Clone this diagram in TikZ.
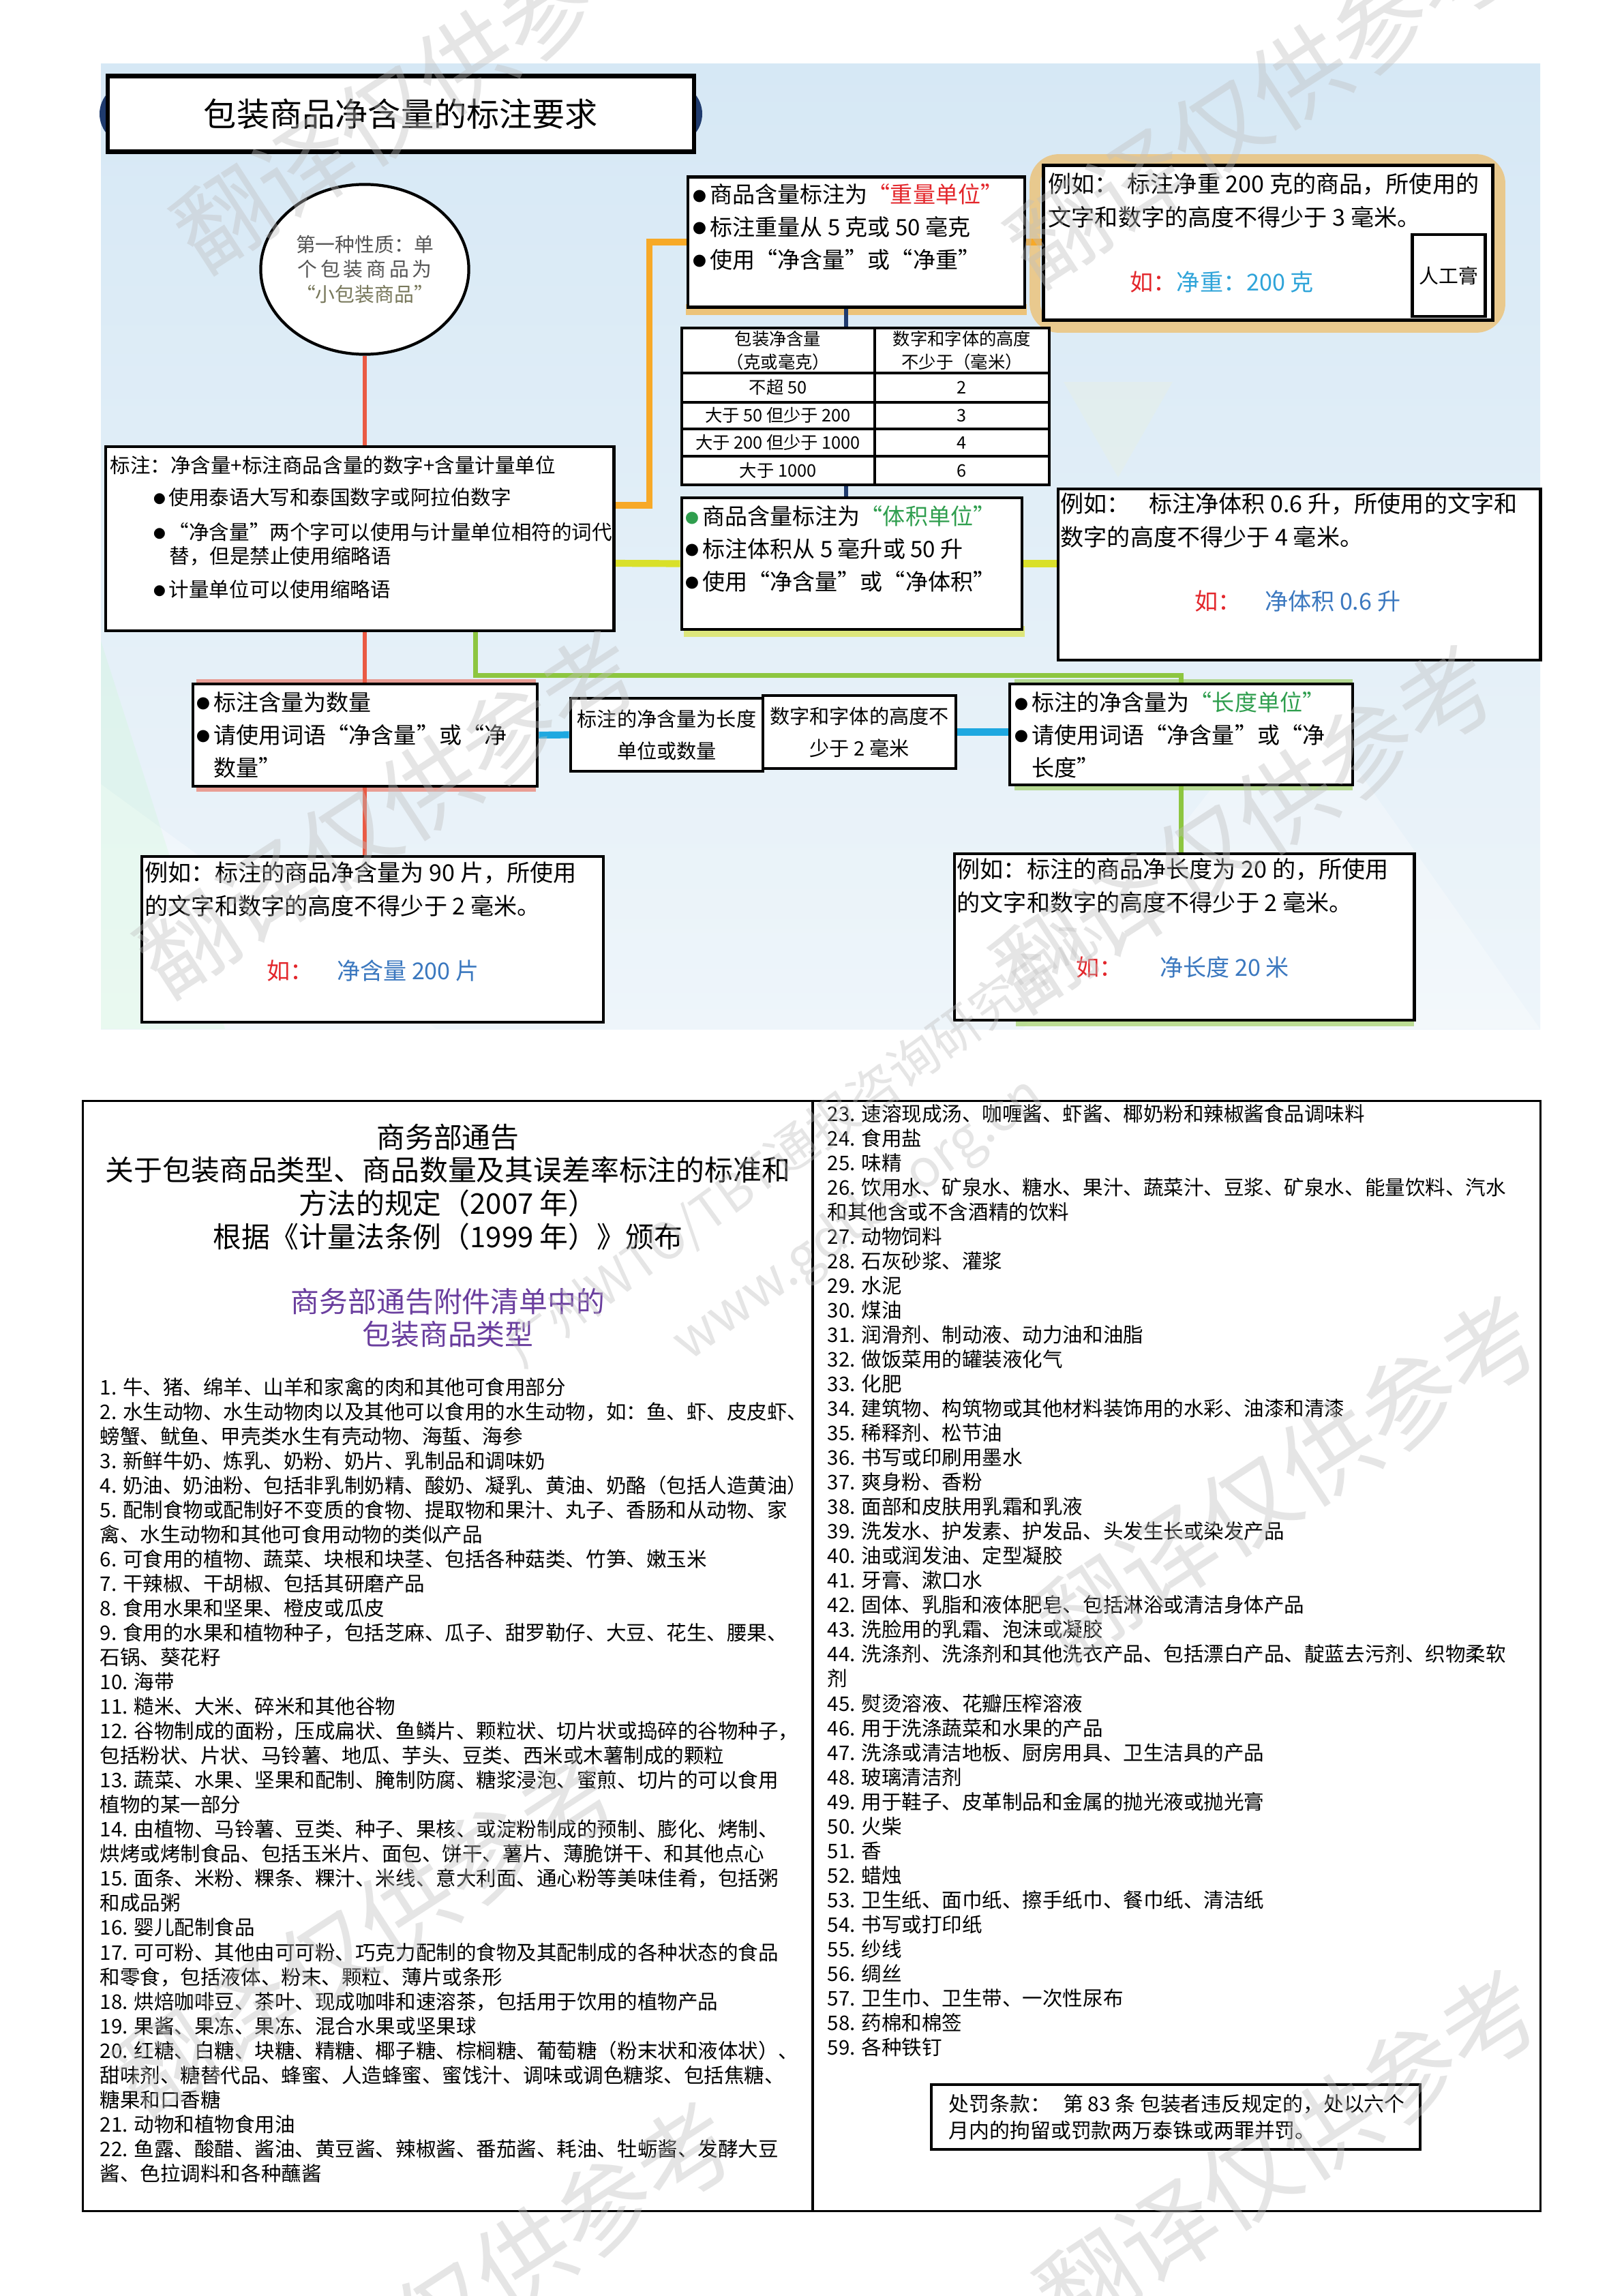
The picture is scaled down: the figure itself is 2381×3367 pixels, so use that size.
\documentclass[tikz,border=0pt]{standalone}
\usepackage{fontspec}
\usepackage{graphicx}
\setmainfont{Noto Sans CJK SC}
\usetikzlibrary{shapes.geometric}

\definecolor{panelblue}{HTML}{D6E8F5}
\definecolor{panellight}{HTML}{EEF5FA}
\definecolor{lineorange}{HTML}{F7A928}
\definecolor{lineyellow}{HTML}{D9E02A}
\definecolor{linegreen}{HTML}{8DC640}
\definecolor{linered}{HTML}{EA5A44}
\definecolor{linecyan}{HTML}{1EA8E0}
\definecolor{linenavy}{HTML}{1F3B6E}
\definecolor{txtred}{HTML}{E3262B}
\definecolor{txtcyan}{HTML}{2FA4D9}
\definecolor{txtblue}{HTML}{3B78BF}
\definecolor{txtgreen}{HTML}{2F9E4E}
\definecolor{txtpurple}{HTML}{6A3E9E}
\definecolor{ellgray}{HTML}{555555}
\definecolor{ellolive}{HTML}{77775A}

\newcommand{\fsz}[2]{\fontsize{#1pt}{#2pt}\selectfont}
\newcommand{\bdot}[1][black]{\textcolor{#1}{\raisebox{0.08em}{\scalebox{0.6}{●}}}\hspace{0.15em}}

\pgfdeclarelayer{back}
\pgfdeclarelayer{mid}
\pgfsetlayers{back,mid,main}

\tikzset{
  framebox/.style={draw=black, line width=1.3pt, fill=white, inner sep=0pt},
  bultext/.style={anchor=north west, align=left, inner sep=0pt, font=\fsz{9.4}{13.6}},
  extext/.style={anchor=north west, align=left, inner sep=0pt, font=\fsz{9.7}{13.8}},
  celltext/.style={inner sep=0pt, align=center, font=\fsz{7.2}{9.6}},
  listtext/.style={anchor=north west, align=left, inner sep=0pt, font=\fsz{8.4}{10.24}},
  wmark/.style={text=black!25, opacity=0.4, inner sep=0pt},
  tabln/.style={draw=black, line width=1pt},
  redln/.style={draw=linered, line width=1.9pt},
  orgln/.style={draw=lineorange, line width=2.6pt},
  yelln/.style={draw=lineyellow, line width=2.9pt},
  grnln/.style={draw=linegreen, line width=2pt},
  cyanln/.style={draw=linecyan, line width=2.9pt},
  navln/.style={draw=linenavy, line width=1.8pt}
}

\begin{document}
\begin{tikzpicture}[x=0.01cm, y=-0.01cm]
\useasboundingbox (0,0) rectangle (2381,3367);

\begin{pgfonlayer}{back}
\fill[white] (0,0) rectangle (2381,3367);
\shade[top color=panelblue, bottom color=panellight] (148,94) rectangle (2259,1509);
\fill[white, opacity=0.35] (148,1150) -- (640,1509) -- (148,1509) -- cycle;
\fill[white, opacity=0.3] (1500,1509) -- (1900,1000) -- (2259,1509) -- cycle;
\fill[yellow!30, opacity=0.12] (1560,560) -- (1720,560) -- (1640,700) -- cycle;
\fill[green!30, opacity=0.15] (148,940) -- (330,1509) -- (148,1509) -- cycle;
\end{pgfonlayer}

% top part
\node[framebox, line width=1.8pt, minimum width=8.59cm, minimum height=1.11cm, font=\fsz{13.7}{16}] (title) at (588,167) {包装商品净含量的标注要求};

\node[ellipse, draw=black, line width=1.2pt, fill=white, minimum width=3.05cm, minimum height=2.49cm, inner sep=0pt, align=center, text=ellgray, font=\fsz{8.2}{10.4}] (circ) at (535,395) {第一种性质：单\\个\,包\,装\,商\,品\,为\\\textcolor{ellolive}{“小包装商品”}};

\node[framebox, minimum width=4.94cm, minimum height=1.91cm] (wbox) at (1256,355) {};
\node[bultext] (wtxt) at (1016,269) {\bdot 商品含量标注为\textcolor{txtred}{“重量单位”}\\\bdot 标注重量从 5 克或 50 毫克\\\bdot 使用“净含量”或“净重”};

\node[framebox, minimum width=6.59cm, minimum height=2.27cm] (ex1) at (1860,356) {};
\node[extext] (ex1txt) at (1537,253) {例如：\hspace{0.4em}标注净重 200 克的商品，所使用的\\文字和数字的高度不得少于 3 毫米。};
\node[extext] (ex1eg) at (1657,397) {\textcolor{txtred}{如：}\textcolor{txtcyan}{净重：200 克}};
\node[framebox, minimum width=1.07cm, minimum height=1.20cm, font=\fsz{8.2}{10}] (glue) at (2125,404) {人工膏};

\node[framebox, line width=1pt, minimum width=5.39cm, minimum height=2.30cm] (tab) at (1269.5,596) {};
\foreach \ry [count=\j] in {547,590,629,669} {
  \coordinate (row\j) at (0,\ry);
  \draw[tabln] (tab.west |- row\j) -- (tab.east |- row\j);
}
\coordinate (colsep) at (1283,0);
\draw[tabln] (tab.north -| colsep) -- (tab.south -| colsep);
\node[celltext] (hd1) at (1141,514) {包装净含量\\（克或毫克）};
\node[celltext] (hd2) at (1411,514) {数字和字体的高度\\不少于（毫米）};
\foreach \ta/\tb/\ty [count=\i] in {不超 50/2/568, 大于 50 但少于 200/3/609, 大于 200 但少于 1000/4/649, 大于 1000/6/690} {
  \node[celltext] (ca\i) at (1141,\ty) {\ta};
  \node[celltext] (cb\i) at (1411,\ty) {\tb};
}

\node[framebox, minimum width=7.45cm, minimum height=2.70cm] (lbox) at (527.5,790) {};
\node[bultext, font=\fsz{8.4}{9.96}] (ltxt) at (161,668) {标注：净含量+标注商品含量的数字+含量计量单位\\[3.4pt]\hspace*{0.64cm}\bdot 使用泰语大写和泰国数字或阿拉伯数字\\[4.5pt]\hspace*{0.64cm}\bdot “净含量”两个字可以使用与计量单位相符的词代\\\hspace*{0.87cm}替，但是禁止使用缩略语\\[4pt]\hspace*{0.64cm}\bdot 计量单位可以使用缩略语};

\node[framebox, minimum width=4.99cm, minimum height=1.93cm] (vbox) at (1249.5,826.5) {};
\node[bultext] (vtxt) at (1005,741) {\bdot[txtgreen]商品含量标注为\textcolor{txtgreen}{“体积单位”}\\\bdot 标注体积从 5 毫升或 50 升\\\bdot 使用“净含量”或“净体积”};

\node[framebox, minimum width=7.07cm, minimum height=2.51cm] (ex2) at (1905.5,842.5) {};
\node[extext] (ex2txt) at (1555,722) {例如：\hspace{0.8em}标注净体积 0.6 升，所使用的文字和\\数字的高度不得少于 4 毫米。};
\node[extext] (ex2eg) at (1752,865) {\textcolor{txtred}{如：}\hspace{1em}\textcolor{txtblue}{净体积 0.6 升}};

\node[framebox, minimum width=5.05cm, minimum height=1.50cm] (qbox) at (535.5,1078) {};
\node[bultext] (qtxt) at (288,1014) {\bdot 标注含量为数量\\\bdot 请使用词语“净含量”或“净\\\hphantom{\bdot}数量”};

\node[framebox, minimum width=2.82cm, minimum height=1.07cm, align=center, font=\fsz{8.3}{13.4}] (mid1) at (978,1077.5) {标注的净含量为长度\\单位或数量};
\node[framebox, minimum width=2.83cm, minimum height=1.07cm, align=center, font=\fsz{8.3}{13.4}] (mid2) at (1260.5,1073.5) {数字和字体的高度不\\少于 2 毫米};

\node[framebox, minimum width=5.03cm, minimum height=1.48cm] (lenbox) at (1732.5,1077) {};
\node[bultext] (lentxt) at (1488,1014) {\bdot 标注的净含量为\textcolor{txtgreen}{“长度单位”}\\\bdot 请使用词语“净含量”或“净\\\hphantom{\bdot}长度”};

\node[framebox, minimum width=6.77cm, minimum height=2.43cm] (ex3) at (546.5,1377.5) {};
\node[extext] (ex3txt) at (212,1263) {例如：标注的商品净含量为 90 片，所使用\\的文字和数字的高度不得少于 2 毫米。};
\node[extext] (ex3eg) at (391,1407) {\textcolor{txtred}{如：}\hspace{1em}\textcolor{txtblue}{净含量 200 片}};

\node[framebox, minimum width=6.74cm, minimum height=2.44cm] (ex4) at (1737,1374) {};
\node[extext] (ex4txt) at (1403,1258) {例如：标注的商品净长度为 20 的，所使用\\的文字和数字的高度不得少于 2 毫米。};
\node[extext] (ex4eg) at (1578,1402) {\textcolor{txtred}{如：}\hspace{1.6em}\textcolor{txtblue}{净长度 20 米}};

\begin{pgfonlayer}{mid}
\fill[linenavy, rounded corners=0.45cm] (146,122) rectangle (1030,212);
\draw[lineorange, line width=4.5pt, opacity=0.5, rounded corners=0.35cm] (1518,234) rectangle (2200,480);
\fill[lineorange, opacity=0.6] (1006,446) rectangle (1506,462);
\fill[lineyellow, opacity=0.6] (1003,918) rectangle (1503,934);
\fill[linered, opacity=0.55] (288,996) rectangle (786,1010);
\fill[linered, opacity=0.55] (288,1146) rectangle (786,1161);
\fill[linegreen, opacity=0.55] (1488,996) rectangle (1984,1010);
\fill[linegreen, opacity=0.55] (1488,1145) rectangle (1984,1159);
\fill[linegreen, opacity=0.55] (1490,1490) rectangle (2074,1505);
\draw[redln] (circ.south) -- (circ.south |- lbox.north);
\draw[redln] (circ.south |- lbox.south) -- (circ.south |- qbox.north);
\draw[redln] (circ.south |- qbox.south) -- (circ.south |- ex3.north);
\draw[orgln] ([yshift=0.49cm]lbox.east) -| ([xshift=-0.54cm]wbox.west) -- (wbox.west);
\draw[orgln] (wbox.east) -- (wbox.east -| ex1.west);
\draw[yelln] ([yshift=-0.36cm]lbox.east) -- (vbox.west);
\draw[yelln] (vbox.east) -- (vbox.east -| ex2.west);
\draw[navln] ([xshift=-0.15cm]wbox.south) -- ([xshift=-0.15cm]wbox.south |- tab.north);
\draw[navln] ([xshift=-0.15cm]wbox.south |- tab.south) -- ([xshift=-0.15cm]wbox.south |- vbox.north);
\draw[grnln] ([xshift=1.7cm]lbox.south) -- ++(0,63) -| (lenbox.north);
\draw[grnln] (lenbox.south) -- (lenbox.south |- ex4.north);
\draw[cyanln] (qbox.east) -- (mid1.west);
\draw[cyanln] (mid2.east) -- (mid2.east -| lenbox.west);
\end{pgfonlayer}

% bottom part
\node[draw=black, line width=1pt, minimum width=21.37cm, minimum height=16.27cm, inner sep=0pt] (frame) at (1190.5,2428.5) {};
\coordinate (divx) at (1192,0);
\draw[line width=1pt] (frame.north -| divx) -- (frame.south -| divx);

\node[anchor=north, align=center, inner sep=0pt, font=\fsz{11.9}{13.85}] (notice) at (657,1647) {商务部通告\\关于包装商品类型、商品数量及其误差率标注的标准和\\方法的规定（2007 年）\\根据《计量法条例（1999 年）》颁布};
\node[anchor=north, align=center, inner sep=0pt, text=txtpurple, font=\fsz{11.9}{13.9}] (annex) at (657,1888) {商务部通告附件清单中的\\包装商品类型};

\node[listtext] (listL) at (146,2020) {1. 牛、猪、绵羊、山羊和家禽的肉和其他可食用部分\\
2. 水生动物、水生动物肉以及其他可以食用的水生动物，如：鱼、虾、皮皮虾、\\
螃蟹、鱿鱼、甲壳类水生有壳动物、海蜇、海参\\
3. 新鲜牛奶、炼乳、奶粉、奶片、乳制品和调味奶\\
4. 奶油、奶油粉、包括非乳制奶精、酸奶、凝乳、黄油、奶酪（包括人造黄油）\\
5. 配制食物或配制好不变质的食物、提取物和果汁、丸子、香肠和从动物、家\\
禽、水生动物和其他可食用动物的类似产品\\
6. 可食用的植物、蔬菜、块根和块茎、包括各种菇类、竹笋、嫩玉米\\
7. 干辣椒、干胡椒、包括其研磨产品\\
8. 食用水果和坚果、橙皮或瓜皮\\
9. 食用的水果和植物种子，包括芝麻、瓜子、甜罗勒仔、大豆、花生、腰果、\\
石锅、葵花籽\\
10. 海带\\
11. 糙米、大米、碎米和其他谷物\\
12. 谷物制成的面粉，压成扁状、鱼鳞片、颗粒状、切片状或捣碎的谷物种子，\\
包括粉状、片状、马铃薯、地瓜、芋头、豆类、西米或木薯制成的颗粒\\
13. 蔬菜、水果、坚果和配制、腌制防腐、糖浆浸泡、蜜煎、切片的可以食用\\
植物的某一部分\\
14. 由植物、马铃薯、豆类、种子、果核、或淀粉制成的预制、膨化、烤制、\\
烘烤或烤制食品、包括玉米片、面包、饼干、薯片、薄脆饼干、和其他点心\\
15. 面条、米粉、粿条、粿汁、米线、意大利面、通心粉等美味佳肴，包括粥\\
和成品粥\\
16. 婴儿配制食品\\
17. 可可粉、其他由可可粉、巧克力配制的食物及其配制成的各种状态的食品\\
和零食，包括液体、粉末、颗粒、薄片或条形\\
18. 烘焙咖啡豆、茶叶、现成咖啡和速溶茶，包括用于饮用的植物产品\\
19. 果酱、果冻、果冻、混合水果或坚果球\\
20. 红糖、白糖、块糖、精糖、椰子糖、棕榈糖、葡萄糖（粉末状和液体状）、\\
甜味剂、糖替代品、蜂蜜、人造蜂蜜、蜜饯汁、调味或调色糖浆、包括焦糖、\\
糖果和口香糖\\
21. 动物和植物食用油\\
22. 鱼露、酸醋、酱油、黄豆酱、辣椒酱、番茄酱、耗油、牡蛎酱、发酵大豆\\
酱、色拉调料和各种蘸酱};

\node[listtext] (listR) at (1213,1619) {23. 速溶现成汤、咖喱酱、虾酱、椰奶粉和辣椒酱食品调味料\\
24. 食用盐\\
25. 味精\\
26. 饮用水、矿泉水、糖水、果汁、蔬菜汁、豆浆、矿泉水、能量饮料、汽水\\
和其他含或不含酒精的饮料\\
27. 动物饲料\\
28. 石灰砂浆、灌浆\\
29. 水泥\\
30. 煤油\\
31. 润滑剂、制动液、动力油和油脂\\
32. 做饭菜用的罐装液化气\\
33. 化肥\\
34. 建筑物、构筑物或其他材料装饰用的水彩、油漆和清漆\\
35. 稀释剂、松节油\\
36. 书写或印刷用墨水\\
37. 爽身粉、香粉\\
38. 面部和皮肤用乳霜和乳液\\
39. 洗发水、护发素、护发品、头发生长或染发产品\\
40. 油或润发油、定型凝胶\\
41. 牙膏、漱口水\\
42. 固体、乳脂和液体肥皂、包括淋浴或清洁身体产品\\
43. 洗脸用的乳霜、泡沫或凝胶\\
44. 洗涤剂、洗涤剂和其他洗衣产品、包括漂白产品、靛蓝去污剂、织物柔软\\
剂\\
45. 熨烫溶液、花瓣压榨溶液\\
46. 用于洗涤蔬菜和水果的产品\\
47. 洗涤或清洁地板、厨房用具、卫生洁具的产品\\
48. 玻璃清洁剂\\
49. 用于鞋子、皮革制品和金属的抛光液或抛光膏\\
50. 火柴\\
51. 香\\
52. 蜡烛\\
53. 卫生纸、面巾纸、擦手纸巾、餐巾纸、清洁纸\\
54. 书写或打印纸\\
55. 纱线\\
56. 绸丝\\
57. 卫生巾、卫生带、一次性尿布\\
58. 药棉和棉签\\
59. 各种铁钉};

\node[framebox, line width=1pt, minimum width=7.17cm, minimum height=0.95cm] (pen) at (1724.5,3104.5) {};
\node[listtext, font=\fsz{8.5}{11.1}] (pentxt) at (1391,3070) {处罚条款：\hspace{0.6em}第 83 条 包装者违反规定的，处以六个\\月内的拘留或罚款两万泰铢或两罪并罚。};

% watermarks
\foreach \wx/\wy [count=\k] in {623/129, 1846/150, 569/1192, 1825/1213, 1889/2168, 537/2834, 1889/3156, 708/3350} {
  \node[wmark, rotate=33, font=\fsz{40}{40}] (wm\k) at (\wx,\wy) {翻译仅供参考};
}
\node[wmark, rotate=36, font=\fsz{21}{21}] (wmorg) at (1181,1675) {广州WTO/TBT通报咨询研究中心};
\node[wmark, rotate=36, font=\fsz{22}{22}] (wmurl) at (1260,1790) {www.gdtbt.org.cn};
\end{tikzpicture}
\end{document}
